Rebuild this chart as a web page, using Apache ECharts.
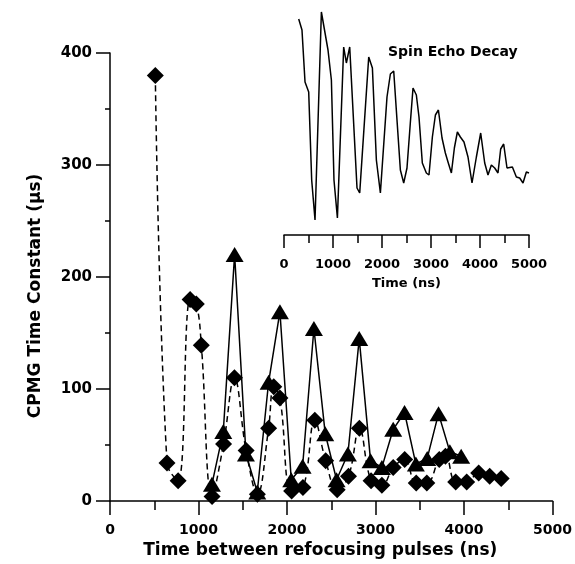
<!DOCTYPE html>
<html>
<head>
<meta charset="utf-8">
<script src="https://cdn.jsdelivr.net/npm/echarts@6/dist/echarts.min.js"></script>
<style>
  html, body { margin: 0; padding: 0; background: #fff; }
  #chart { width: 575px; height: 564px; }
</style>
</head>
<body>
<div id="chart"></div>
<script>
// CPMG time constant vs pulse spacing (diamonds, dashed)
var diamondX = [512, 644, 770, 905, 975, 1032, 1153, 1283, 1406, 1538, 1665, 1792, 1850, 1920, 2052, 2180, 2314, 2437, 2567, 2695, 2818, 2950, 3072, 3200, 3330, 3460, 3580, 3720, 3790, 3906, 4030, 4166, 4290, 4420]
var diamondY = [380, 34, 18, 180, 176, 139, 4, 51, 110, 45, 6, 65, 102, 92, 9, 12, 72, 36, 10, 22, 65, 18, 14, 30, 37, 16, 16, 37, 40, 17, 17, 25, 22, 20]
// second set (triangles, solid)
var triangleX = [1152, 1280, 1408, 1536, 1664, 1792, 1920, 2048, 2176, 2304, 2432, 2560, 2688, 2816, 2944, 3072, 3200, 3328, 3456, 3584, 3712, 3840, 3968]
var triangleY = [15, 62, 220, 42, 8, 106, 169, 19, 31, 154, 60, 19, 42, 145, 36, 30, 64, 79, 33, 38, 78, 44, 40]
// inset: spin echo decay (arbitrary amplitude)
var echoTime = [300, 367, 429, 504, 565, 633, 763, 898, 967, 1020, 1090, 1218, 1273, 1341, 1490, 1545, 1729, 1804, 1885, 1967, 2102, 2171, 2239, 2306, 2375, 2443, 2510, 2578, 2633, 2701, 2755, 2823, 2905, 2959, 3028, 3090, 3151, 3225, 3293, 3347, 3416, 3477, 3538, 3599, 3673, 3755, 3837, 3926, 4014, 4096, 4163, 4232, 4300, 4367, 4422, 4483, 4551, 4661, 4742, 4810, 4878, 4946, 5000]
var echoAmp = [216, 205, 153, 143, 55, 15, 223, 185, 155, 55, 17, 188, 172, 188, 47, 42, 178, 167, 75, 42, 138, 161, 164, 115, 65, 52, 67, 112, 147, 140, 118, 72, 62, 60, 98, 120, 125, 97, 82, 73, 62, 87, 103, 98, 93, 78, 52, 78, 102, 72, 60, 70, 67, 62, 86, 91, 67, 68, 58, 57, 52, 63, 62]

var xTicks = [0, 1000, 2000, 3000, 4000, 5000]
var yTicks = [0, 100, 200, 300, 400]

function pairs(xs, ys) {
  var out = []
  for (var i = 0; i < xs.length; i++) out.push([xs[i], ys[i]])
  return out
}
function plain(v) { return String(v) }

var font = 'DejaVu Sans'
var black = '#000'
var chart = echarts.init(document.getElementById('chart'))
chart.setOption({
  animation: false,
  backgroundColor: '#fff',
  title: {
    text: 'Spin Echo Decay',
    left: 383,
    top: 40,
    textStyle: { fontFamily: font, fontWeight: 'bold', fontSize: 14, color: black }
  },
  grid: [
    { left: 110, top: 53, width: 448, height: 450 },
    { left: 284, top: 10, width: 245, height: 225 }
  ],
  xAxis: [{
    gridIndex: 0,
    type: 'value',
    min: xTicks[0],
    max: xTicks[xTicks.length - 1],
    interval: 1000,
    name: 'Time between refocusing pulses (ns)',
    nameLocation: 'middle',
    nameGap: 41,
    nameTextStyle: { fontFamily: font, fontWeight: 'bold', fontSize: 17, color: black, padding: [0, 22, 0, 0] },
    axisLine: { show: true, onZero: false, lineStyle: { color: black, width: 1.5 } },
    axisTick: { show: true, length: 14, lineStyle: { color: black, width: 1.5 } },
    minorTick: { show: true, splitNumber: 2, length: 9, lineStyle: { color: black, width: 1.5 } },
    axisLabel: { margin: 22, formatter: plain, fontFamily: font, fontWeight: 'bold', fontSize: 14, color: black },
    splitLine: { show: false }
  }, {
    gridIndex: 1,
    type: 'value',
    min: xTicks[0],
    max: xTicks[xTicks.length - 1],
    interval: 1000,
    name: 'Time (ns)',
    nameLocation: 'middle',
    nameGap: 42,
    nameTextStyle: { fontFamily: font, fontWeight: 'bold', fontSize: 13, color: black },
    axisLine: { show: true, onZero: false, lineStyle: { color: black, width: 1.5 } },
    axisTick: { show: true, length: 13, lineStyle: { color: black, width: 1.5 } },
    minorTick: { show: true, splitNumber: 2, length: 8, lineStyle: { color: black, width: 1.5 } },
    axisLabel: { margin: 23, formatter: plain, fontFamily: font, fontWeight: 'bold', fontSize: 13, color: black },
    splitLine: { show: false }
  }],
  yAxis: [{
    gridIndex: 0,
    type: 'value',
    min: yTicks[0],
    max: yTicks[yTicks.length - 1],
    interval: 100,
    name: 'CPMG Time Constant (\u03bcs)',
    nameLocation: 'middle',
    nameGap: 66,
    nameTextStyle: { fontFamily: font, fontWeight: 'bold', fontSize: 17, color: black, padding: [0, 38, 0, 0] },
    axisLine: { show: true, lineStyle: { color: black, width: 1.5 } },
    axisTick: { show: true, length: 14, lineStyle: { color: black, width: 1.5 } },
    minorTick: { show: true, splitNumber: 2, length: 5, lineStyle: { color: black, width: 1.5 } },
    axisLabel: { margin: 18, fontFamily: font, fontWeight: 'bold', fontSize: 15, color: black },
    splitLine: { show: false }
  }, {
    gridIndex: 1,
    type: 'value',
    min: 0,
    max: 225,
    show: false
  }],
  series: [{
    name: 'diamonds',
    type: 'line',
    xAxisIndex: 0,
    yAxisIndex: 0,
    data: pairs(diamondX, diamondY),
    smooth: 0.4,
    symbol: 'diamond',
    symbolSize: 17,
    itemStyle: { color: black },
    lineStyle: { color: black, width: 1.5, type: [6, 4] }
  }, {
    name: 'triangles',
    type: 'line',
    xAxisIndex: 0,
    yAxisIndex: 0,
    data: pairs(triangleX, triangleY),
    symbol: 'triangle',
    symbolSize: [18, 15],
    itemStyle: { color: black },
    lineStyle: { color: black, width: 1.5 }
  }, {
    name: 'echo',
    type: 'line',
    xAxisIndex: 1,
    yAxisIndex: 1,
    data: pairs(echoTime, echoAmp),
    showSymbol: false,
    symbol: 'none',
    lineStyle: { color: black, width: 1.5 }
  }]
})
</script>
</body>
</html>
